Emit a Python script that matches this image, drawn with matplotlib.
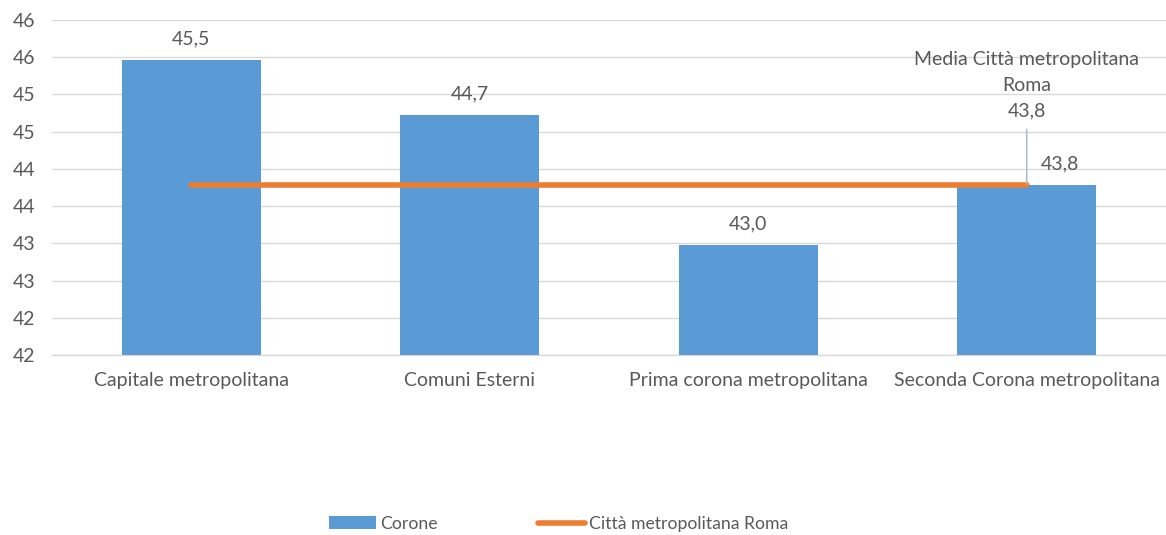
import math
import matplotlib
matplotlib.use("Agg")
import matplotlib.pyplot as plt
from matplotlib.ticker import FuncFormatter, MultipleLocator
from matplotlib.patches import Patch
from matplotlib.lines import Line2D

categories = ["Capitale metropolitana", "Comuni Esterni", "Prima corona metropolitana", "Seconda Corona metropolitana"]
corone = [45.46, 44.72, 42.98, 43.79]
media_roma = 43.79
annot_label = "Media Città metropolitana\nRoma"

plt.rcParams['font.family'] = ['Lato', 'DejaVu Sans']
FS = 14
LFS = 12.7
text_color = "#595959"
bar_color = "#5B9BD5"
line_color = "#ED7D31"
grid_color = "#D9D9D9"

fig = plt.figure(figsize=(11.66, 5.35), dpi=100)
ax = fig.add_axes([52/1166, 1-355/535, 1-52/1166, (355-20)/535])

x = list(range(len(categories)))
ax.bar(x, corone, width=0.5, color=bar_color, zorder=2)
ax.plot([x[0], x[-1]], [media_roma]*2, color=line_color, linewidth=4, solid_capstyle='round', zorder=3)

for i, (xi, v) in enumerate(zip(x, corone)):
    dx = 24 if i == len(x) - 1 else 0
    ax.annotate(f"{v:.1f}".replace(".", ","), (xi, v), xytext=(dx, 9), textcoords='offset points',
                ha='center', va='bottom', fontsize=FS, color=text_color)

ax.annotate(annot_label + "\n" + f"{media_roma:.1f}".replace(".", ","), xy=(x[-1], media_roma),
            xytext=(x[-1], 44.66), textcoords='data', ha='center', va='bottom', fontsize=FS,
            color=text_color, linespacing=1.65,
            arrowprops=dict(arrowstyle='-', color='#A5B4C8', lw=1, shrinkA=5, shrinkB=0))

ax.set_ylim(41.5, 46.0)
ax.set_xlim(-0.5, 3.5)
ax.yaxis.set_major_locator(MultipleLocator(0.5))
ax.yaxis.set_major_formatter(FuncFormatter(lambda v, p: str(int(math.floor(v + 0.5)))))
ax.grid(axis='y', color=grid_color, linewidth=1, zorder=0)
ax.axhline(41.5, color=grid_color, linewidth=1, zorder=1, clip_on=False)
ax.set_axisbelow(True)
for s in ax.spines.values():
    s.set_visible(False)
ax.tick_params(axis='both', length=0, labelsize=FS, colors=text_color)
ax.tick_params(axis='y', pad=12)
ax.tick_params(axis='x', pad=12)
ax.set_xticks(x)
ax.set_xticklabels(categories)

handles = [Patch(facecolor=bar_color, label="Corone"),
           Line2D([0], [0], color=line_color, lw=4, solid_capstyle='round', label="Città metropolitana Roma")]
fig.legend(handles=handles, loc='center', bbox_to_anchor=(558.5/1166, 1-524/535), ncol=2, frameon=False,
           fontsize=LFS, labelcolor=text_color, handlelength=2.67, handleheight=0.75, handletextpad=0.2,
           columnspacing=5.7)

fig.savefig("out.png", dpi=100)
